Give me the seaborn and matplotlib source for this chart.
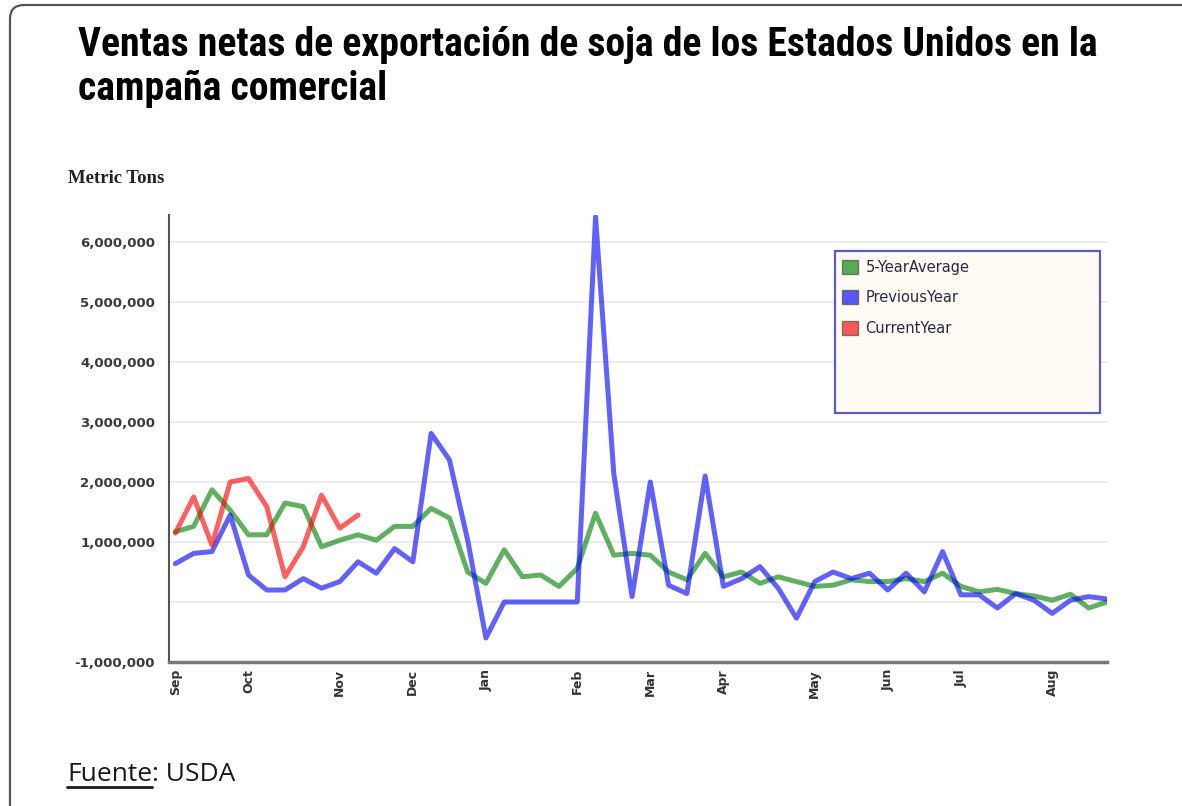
import numpy as np
import pandas as pd
import seaborn as sns
import matplotlib.pyplot as plt
from matplotlib import font_manager
from matplotlib.patches import Patch, Rectangle, FancyBboxPatch
from matplotlib.lines import Line2D
from matplotlib.transforms import IdentityTransform

# weekly net export sales, million metric tons
month_labels = ['Sep', 'Oct', 'Nov', 'Dec', 'Jan', 'Feb', 'Mar', 'Apr', 'May', 'Jun', 'Jul', 'Aug']
month_weeks = [0, 4, 9, 13, 17, 22, 26, 30, 35, 39, 43, 48]

five_year_avg = [1.17, 1.26, 1.87, 1.53, 1.12, 1.12, 1.65, 1.59, 0.92, 1.03,
                 1.12, 1.03, 1.26, 1.26, 1.56, 1.40, 0.50, 0.31, 0.87, 0.42,
                 0.45, 0.26, 0.56, 1.48, 0.78, 0.81, 0.78, 0.50, 0.37, 0.81,
                 0.42, 0.50, 0.31, 0.42, 0.34, 0.26, 0.28, 0.37, 0.34, 0.34,
                 0.39, 0.34, 0.48, 0.26, 0.17, 0.21, 0.14, 0.10, 0.03, 0.13,
                 -0.10, 0.00]
previous_year = [0.64, 0.81, 0.84, 1.45, 0.45, 0.20, 0.20, 0.39, 0.23, 0.34,
                 0.67, 0.48, 0.89, 0.67, 2.81, 2.37, 1.03, -0.60, 0.00, 0.00,
                 0.00, 0.00, 0.00, 6.42, 2.14, 0.09, 2.00, 0.28, 0.14, 2.10,
                 0.26, 0.39, 0.59, 0.23, -0.27, 0.34, 0.50, 0.39, 0.48, 0.20,
                 0.48, 0.17, 0.84, 0.12, 0.12, -0.10, 0.14, 0.03, -0.19, 0.03,
                 0.09, 0.05]
current_year = [1.15, 1.75, 0.95, 2.00, 2.06, 1.59, 0.42, 0.92, 1.78, 1.23, 1.45]

series_names = ['5-YearAverage', 'PreviousYear', 'CurrentYear']
series_colors = ['green', 'blue', 'red']

frames = []
for name, vals in zip(series_names, [five_year_avg, previous_year, current_year]):
    frames.append(pd.DataFrame({'week': range(len(vals)),
                                'tons': np.array(vals) * 1e6,
                                'series': name}))
df = pd.concat(frames, ignore_index=True)

sns.set_style('white')
W, H = 1182, 806
fig = plt.figure(figsize=(W / 100, H / 100), dpi=100)
ax = fig.add_axes([169 / W, 1 - 662 / H, (1107 - 169) / W, (662 - 215) / H])

sns.lineplot(data=df, x='week', y='tons', hue='series',
             palette=dict(zip(series_names, series_colors)),
             alpha=0.62, linewidth=3.6, legend=False, sort=False, ax=ax)

# axes
ax.set_xlim(-0.35, 51)
ax.set_ylim(-1e6, 6.45e6)
yticks = np.arange(-1e6, 6.5e6, 1e6)
ax.set_yticks(yticks)
ax.set_yticklabels(['' if v == 0 else f'{v:,.0f}' for v in yticks],
                   fontweight='bold', fontsize=9.5, color='#3a3a3a')
ax.set_xticks(month_weeks)
ax.set_xticklabels(month_labels, rotation=90, fontweight='bold', fontsize=9, color='#333333')
ax.tick_params(axis='both', length=0)
ax.tick_params(axis='y', pad=10)
ax.tick_params(axis='x', pad=5)
ax.yaxis.grid(True, color='#e9e9e9', linewidth=1.2)
ax.set_axisbelow(True)
ax.set_xlabel('')
ax.set_ylabel('')
for s in ['top', 'right']:
    ax.spines[s].set_visible(False)
ax.spines['left'].set_color('#555555')
ax.spines['left'].set_linewidth(1.5)
ax.spines['bottom'].set_color('#777777')
ax.spines['bottom'].set_linewidth(2.5)

# legend box
fig.add_artist(Rectangle((835 / W, 1 - 413 / H), 265 / W, 162 / H, transform=fig.transFigure,
                         facecolor='#fffaf3', edgecolor='#5c5cc0', linewidth=1.6, zorder=3))
handles = [Patch(facecolor=c, edgecolor='#444444', alpha=0.65, linewidth=1) for c in series_colors]
fig.legend(handles, series_names, loc='upper left', bbox_to_anchor=(842 / W, 1 - 260 / H),
           bbox_transform=fig.transFigure, frameon=False, borderpad=0, borderaxespad=0,
           handlelength=1.1, handleheight=1.1, handletextpad=0.5, labelspacing=1.05,
           prop={'size': 10.5}, labelcolor='#2a2a40')

# outer rounded frame
fig.add_artist(FancyBboxPatch((10, -60), 1300, H - 5 + 60, boxstyle='round,pad=0,rounding_size=14',
                              transform=IdentityTransform(), facecolor='none',
                              edgecolor='#555555', linewidth=1.6, zorder=10))

# title: pick a narrow bold face if one is installed
names = {f.name for f in font_manager.fontManager.ttflist}
title_font = 'Roboto'
for cand in ['Liberation Sans Narrow', 'Roboto Condensed', 'Open Sans Condensed', 'DejaVu Sans Condensed']:
    if cand in names:
        title_font = cand
        break

line1 = fig.text(78 / W, 1 - 56 / H, 'Ventas netas de exportación de soja de los Estados Unidos en la',
                 family=[title_font, 'DejaVu Sans'], fontweight='bold', fontsize=28,
                 va='baseline', color='black')
line2 = fig.text(78 / W, 1 - 100 / H, 'campaña comercial',
                 family=[title_font, 'DejaVu Sans'], fontweight='bold', fontsize=28,
                 va='baseline', color='black')
fig.canvas.draw()
# the reference title line is about 1020 px wide
size = 28 * 1020 / line1.get_window_extent().width
line1.set_fontsize(size)
line2.set_fontsize(size)

fig.text(68 / W, 1 - 183 / H, 'Metric Tons', family=['Liberation Serif', 'DejaVu Serif'],
         fontweight='bold', fontsize=13.5, va='baseline', color='#222222')

src_font = ['Open Sans', 'DejaVu Sans']
t1 = fig.text(67 / W, 1 - 781 / H, 'Fuente', family=src_font, fontsize=19, va='baseline', color='#1a1a1a')
fig.canvas.draw()
bb = t1.get_window_extent()
fig.text(bb.x1 / W, 1 - 781 / H, ': USDA', family=src_font, fontsize=19, va='baseline', color='#1a1a1a')
fig.add_artist(Line2D([bb.x0 / W, bb.x1 / W], [1 - 787 / H, 1 - 787 / H],
                      transform=fig.transFigure, color='#1a1a1a', linewidth=2))

fig.savefig('out.png', dpi=100)
